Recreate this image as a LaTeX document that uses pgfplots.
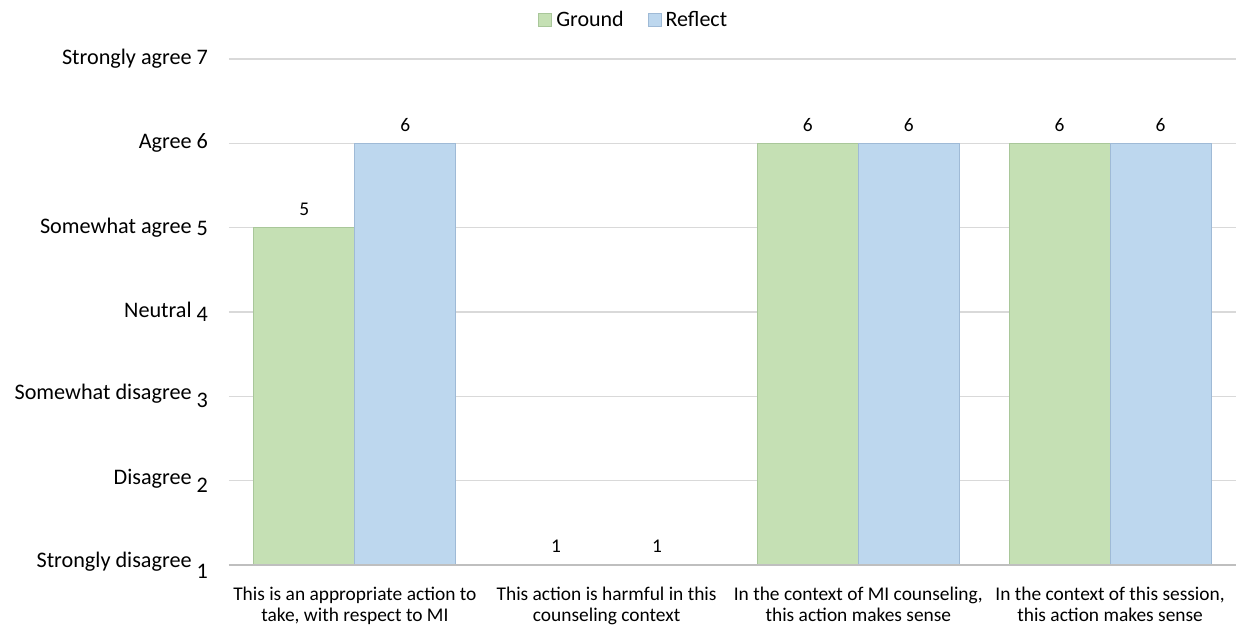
\documentclass[border=0pt]{standalone}
\usepackage{fontspec}
\setmainfont{Carlito}
\usepackage{pgfplots}
\pgfplotsset{compat=1.18}

\definecolor{groundfill}{HTML}{C5E0B4}
\definecolor{groundedge}{HTML}{A9C79A}
\definecolor{reflectfill}{HTML}{BDD7EE}
\definecolor{reflectedge}{HTML}{9FBAD6}
\definecolor{gridgray}{HTML}{D9D9D9}
\definecolor{axisgray}{HTML}{BFBFBF}

% bars sit between the grid and the category axis line
\pgfplotsset{
  layers/barsbelowaxis/.define layer set={
    axis background,axis grid,main,axis ticks,axis lines,
    axis tick labels,axis descriptions,axis foreground
  }{/pgfplots/layers/standard},
}

\begin{document}
\begin{tikzpicture}
\begin{axis}[
  set layers=barsbelowaxis,
  at={(0,0)}, anchor=south west,
  scale only axis,
  width=503.5pt, height=253pt,
  ybar=0pt, bar width=50.5pt,
  xmin=-0.5, xmax=3.5,
  ymin=1, ymax=7,
  xtick={0,1,2,3},
  xticklabels={
    {This is an appropriate action to\\take, with respect to MI},
    {This action is harmful in this\\counseling context},
    {In the context of MI counseling,\\this action makes sense},
    {In the context of this session,\\this action makes sense}},
  ytick={1,2,3,4,5,6,7},
  yticklabels={
    {Strongly disagree \raisebox{-5.5pt}{1}},
    {Disagree \raisebox{-4pt}{2}},
    {Somewhat disagree \raisebox{-4pt}{3}},
    {Neutral \raisebox{-2pt}{4}},
    {Somewhat agree \raisebox{-1pt}{5}},
    {Agree 6},
    {Strongly agree 7}},
  major tick length=0pt,
  axis x line*=bottom,
  axis y line*=left,
  y axis line style={draw=none},
  x axis line style={draw=axisgray, line width=0.8pt, -},
  ymajorgrids,
  grid style={draw=gridgray, line width=0.6pt},
  xticklabel style={font=\fontsize{9.7}{10.6}\selectfont, align=center, yshift=-7.5pt},
  yticklabel style={font=\fontsize{11.1}{12}\selectfont, xshift=-7pt},
  /pgf/number format/assume math mode=true,
  nodes near coords,
  every node near coord/.append style={font=\fontsize{9.7}{11}\selectfont, yshift=2.5pt, text=black},
  legend style={
    at={(0.403,1.077)}, anchor=center,
    draw=none, fill=none,
    font=\fontsize{11}{12}\selectfont,
    legend columns=2,
    /tikz/every even column/.append style={column sep=10pt},
  },
  legend image code/.code={\fill[#1] (-1pt,-3.25pt) rectangle (5.5pt,3.25pt);},
]
\addplot[fill=groundfill, draw=groundedge, line width=0.4pt]
  coordinates {(0,5) (1,1) (2,6) (3,6)};
\addplot[fill=reflectfill, draw=reflectedge, line width=0.4pt]
  coordinates {(0,6) (1,1) (2,6) (3,6)};
\legend{Ground, Reflect}
\end{axis}
\pgfresetboundingbox
\useasboundingbox (-114.5pt,-32.5pt) rectangle (507pt,282.5pt);
\end{tikzpicture}
\end{document}
